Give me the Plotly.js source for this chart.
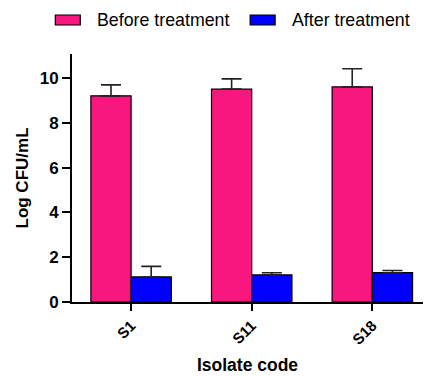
<!DOCTYPE html>
<html>
<head>
<meta charset="utf-8">
<script src="https://cdn.plot.ly/plotly-3.0.1.min.js"></script>
<style>html,body{margin:0;padding:0;background:#fff;}#chart{width:427px;height:376px;}</style>
</head>
<body>
<div id="chart"></div>
<script>
const categories = ["S1", "S11", "S18"];
const seriesNames = ["Before treatment", "After treatment"];
const beforeValues = [9.21, 9.51, 9.61];
const beforeErrors = [0.49, 0.46, 0.81];
const afterValues = [1.12, 1.21, 1.31];
const afterErrors = [0.47, 0.10, 0.10];
const yTickValues = [0, 2, 4, 6, 8, 10];
const colors = ["#F7177E", "#0000FF"];

const font = "'Liberation Sans', Arial, sans-serif";

function barTrace(name, vals, errs, color) {
  return {
    type: "bar", name: name, x: categories, y: vals,
    marker: {color: color, line: {color: "#000", width: 1.2}},
    error_y: {type: "data", symmetric: false, array: errs, arrayminus: errs.map(() => 0),
              color: "#222", thickness: 1.6, width: 10},
    showlegend: false
  };
}

const data = [
  barTrace(seriesNames[0], beforeValues, beforeErrors, colors[0]),
  barTrace(seriesNames[1], afterValues, afterErrors, colors[1])
];

// custom legend (rectangle swatches + text)
const legendX = [55, 250];
const shapes = [];
const annotations = [];
seriesNames.forEach((n, i) => {
  shapes.push({type: "rect", xref: "paper", yref: "paper",
    x0: (legendX[i] - 71.7) / 351.3, x1: (legendX[i] + 25 - 71.7) / 351.3,
    y0: (302 - 15) / 248, y1: (302 - 25) / 248,
    fillcolor: colors[i], line: {color: "#000", width: 1.2}});
  annotations.push({xref: "paper", yref: "paper",
    x: (legendX[i] + 40 - 71.7) / 351.3, y: (302 - 20) / 248,
    xanchor: "left", yanchor: "middle", showarrow: false, text: n,
    font: {family: font, size: 17.8, color: "#000"}});
});

const layout = {
  width: 427, height: 376,
  margin: {l: 71.7, r: 4, t: 54, b: 74},
  paper_bgcolor: "#fff", plot_bgcolor: "#fff",
  barmode: "group", bargap: 0.333, bargroupgap: 0,
  font: {family: font, color: "#000"},
  showlegend: false,
  xaxis: {
    range: [-0.49, 2.42], showline: true, linewidth: 2, linecolor: "#000",
    ticks: "outside", ticklen: 7, tickwidth: 2, tickcolor: "#000",
    tickangle: -45, tickfont: {family: font, size: 15, weight: "bold"},
    title: {text: "Isolate code", font: {family: font, size: 17.5, weight: "bold"}, standoff: 12},
    showgrid: false, zeroline: false, fixedrange: true
  },
  yaxis: {
    range: [0, 11.08], showline: true, linewidth: 2, linecolor: "#000",
    ticks: "outside", ticklen: 8, tickwidth: 2, tickcolor: "#000",
    tickvals: yTickValues, ticktext: yTickValues.map(String),
    tickfont: {family: font, size: 17, weight: "bold"},
    title: {text: "Log CFU/mL", font: {family: font, size: 17, weight: "bold"}, standoff: 7},
    showgrid: false, zeroline: false, fixedrange: true
  },
  shapes: shapes,
  annotations: annotations
};

Plotly.newPlot("chart", data, layout, {displayModeBar: false, staticPlot: true});
</script>
</body>
</html>
